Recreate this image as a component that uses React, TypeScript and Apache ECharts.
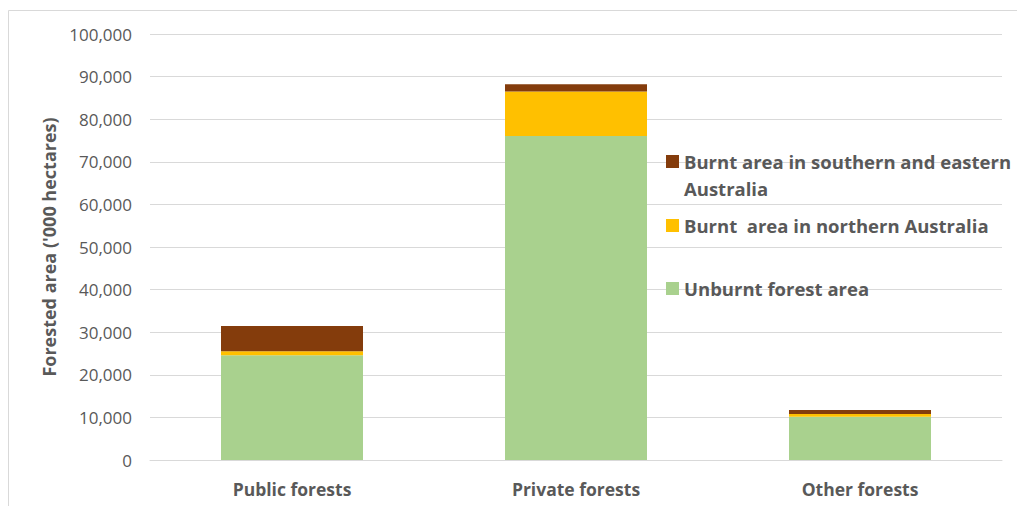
import React, { useEffect, useRef } from "react";
import * as echarts from "echarts";

const categories = ["Public forests", "Private forests", "Other forests"];
const unburnt = [24600, 76050, 10150];
const burntNorth = [950, 10450, 650];
const burntSouthEast = [5900, 1700, 950];
const yTicks = { min: 0, max: 100000, interval: 10000 };

const seriesNames = [
  "Burnt area in southern and eastern Australia",
  "Burnt  area in northern Australia",
  "Unburnt forest area",
];
const colors = ["#843C0C", "#FFC000", "#A9D18E"];

const FONT = "'Open Sans', 'Liberation Sans', sans-serif";
const TEXT = "#595959";

export default function App() {
  const ref = useRef<HTMLDivElement>(null);
  useEffect(() => {
    if (!ref.current) return;
    const chart = echarts.init(ref.current, undefined, { renderer: "svg" });
    const legendText = {
      color: TEXT,
      fontSize: 18.5,
      fontWeight: "bold" as const,
      fontFamily: FONT,
    };
    chart.setOption({
      animation: false,
      backgroundColor: "#ffffff",
      textStyle: { fontFamily: FONT },
      grid: { left: 150, right: 15, top: 34, bottom: 46, containLabel: false },
      legend: [
        {
          data: [seriesNames[0]],
          left: 666,
          top: 152,
          icon: "rect",
          itemWidth: 13,
          itemHeight: 13,
          padding: 0,
          textStyle: legendText,
          formatter: () => "Burnt area in southern and eastern",
        },
        {
          data: [seriesNames[1]],
          left: 666,
          top: 216,
          icon: "rect",
          itemWidth: 13,
          itemHeight: 13,
          padding: 0,
          textStyle: legendText,
        },
        {
          data: [seriesNames[2]],
          left: 666,
          top: 279,
          icon: "rect",
          itemWidth: 13,
          itemHeight: 13,
          padding: 0,
          textStyle: legendText,
        },
      ],
      graphic: [
        {
          type: "rect",
          silent: true,
          shape: { x: 8.5, y: 10.5, width: 1030, height: 520 },
          style: { fill: "none", stroke: "#d9d9d9", lineWidth: 1 },
        },
        {
          type: "text",
          left: 684,
          top: 179,
          style: {
            text: "Australia",
            fill: TEXT,
            fontSize: 18.5,
            fontWeight: "bold",
            fontFamily: FONT,
          },
        },
      ],
      xAxis: {
        type: "category",
        data: categories,
        axisLine: { lineStyle: { color: "#d9d9d9" } },
        axisTick: { show: false },
        axisLabel: {
          color: TEXT,
          fontSize: 17.5,
          fontWeight: "bold",
          fontFamily: FONT,
          margin: 20,
        },
      },
      yAxis: {
        type: "value",
        min: yTicks.min,
        max: yTicks.max,
        interval: yTicks.interval,
        name: "Forested area ('000 hectares)",
        nameLocation: "middle",
        nameGap: 90,
        nameTextStyle: {
          color: TEXT,
          fontSize: 18,
          fontWeight: "bold",
          fontFamily: FONT,
        },
        axisLine: { show: false },
        axisTick: { show: false },
        splitLine: { lineStyle: { color: "#d9d9d9", width: 1 } },
        axisLabel: {
          color: TEXT,
          fontSize: 17,
          fontFamily: FONT,
          margin: 18,
          formatter: (v: number) => v.toLocaleString("en-US"),
        },
      },
      series: [
        {
          name: seriesNames[2],
          type: "bar",
          stack: "total",
          barWidth: "50%",
          itemStyle: { color: colors[2] },
          data: unburnt,
        },
        {
          name: seriesNames[1],
          type: "bar",
          stack: "total",
          barWidth: "50%",
          itemStyle: { color: colors[1] },
          data: burntNorth,
        },
        {
          name: seriesNames[0],
          type: "bar",
          stack: "total",
          barWidth: "50%",
          itemStyle: { color: colors[0] },
          data: burntSouthEast,
        },
      ],
    });
    return () => chart.dispose();
  }, []);
  return (
    <div
      ref={ref}
      style={{ position: "fixed", left: 0, top: 0, width: 1017, height: 506 }}
    />
  );
}
